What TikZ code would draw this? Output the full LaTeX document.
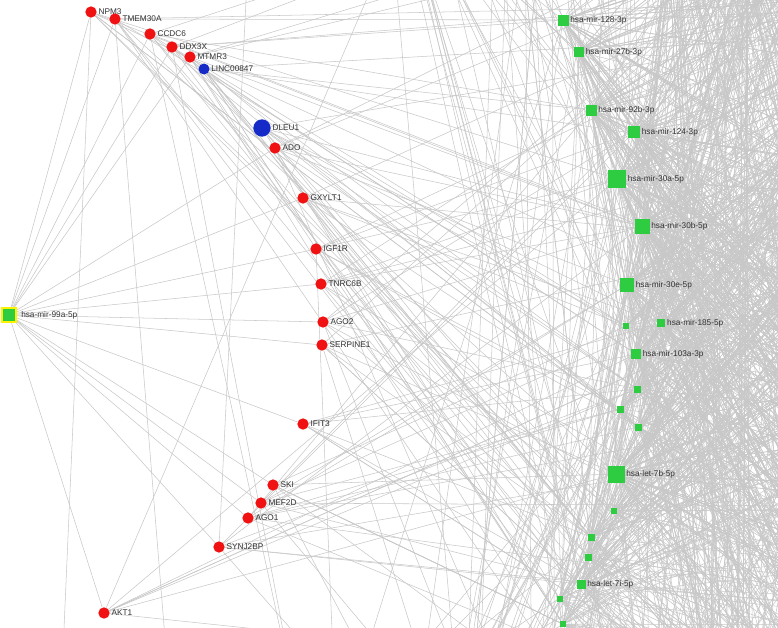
\documentclass[tikz,border=0pt]{standalone}
\usepackage{fontspec}
\setmainfont{Liberation Sans}
\definecolor{edgec}{RGB}{200,200,200}
\definecolor{genered}{RGB}{240,18,18}
\definecolor{lncblue}{RGB}{22,42,200}
\definecolor{mirgreen}{RGB}{46,204,64}
\definecolor{labc}{RGB}{51,51,51}
\pgfdeclarelayer{bg}
\pgfdeclarelayer{edges}
\pgfsetlayers{bg,edges,main}
\tikzset{
  gene/.style={circle, fill=genered, inner sep=0pt, minimum size=8.5pt},
  lnc/.style={circle, fill=lncblue, inner sep=0pt, minimum size=#1},
  mir/.style={rectangle, fill=mirgreen, inner sep=0pt, minimum size=#1},
  lab/.style={font=\fontsize{6.2}{7}\selectfont, text=labc, inner sep=1pt},
  edge/.style={draw=edgec, line width=0.4pt},
}
\begin{document}
\begin{tikzpicture}[x=0.75pt,y=-0.75pt]
\useasboundingbox (0,0) rectangle (778,628);
\begin{pgfonlayer}{bg}
  \fill[white] (0,0) rectangle (778,628);
\end{pgfonlayer}

% hub
\node[mir=10.5pt, draw=yellow, line width=1.5pt,
      label={[lab,xshift=2pt]right:hsa-mir-99a-5p}] (m99) at (9,315) {};

% genes
\foreach \n/\x/\y/\t in {npm/91/12/NPM3, tmem/115/19/TMEM30A, ccdc/150/34/CCDC6,
  ddx/172/47/DDX3X, mtmr/190/57/MTMR3, ado/275/148/ADO, gxy/303/198/GXYLT1,
  igf/316/249/IGF1R, tnrc/321/284/TNRC6B, agob/323/322/AGO2, serp/322/345/SERPINE1,
  ifit/303/424/IFIT3, ski/273/485/SKI, mef/261/503/MEF2D, agoa/248/518/AGO1,
  synj/219/547/SYNJ2BP, akt/104/613/AKT1}
  \node[gene, label={[lab]right:\t}] (\n) at (\x,\y) {};

% lncRNAs
\node[lnc=8.25pt, label={[lab]right:LINC00847}] (linc) at (204,69) {};
\node[lnc=13pt, label={[lab]right:DLEU1}] (dleu) at (262,128) {};

% miRNAs, labelled
\foreach \i/\x/\y/\s/\t in {1/563/20/8.25/hsa-mir-128-3p, 2/579/52/7.5/hsa-mir-27b-3p,
  3/591/110/8.25/hsa-mir-92b-3p, 4/634/132/9/hsa-mir-124-3p, 5/617/179/13.5/hsa-mir-30a-5p,
  6/642/226/11.25/hsa-mir-30b-5p, 7/627/285/10.5/hsa-mir-30e-5p, 8/661/323/6.5/hsa-mir-185-5p,
  9/636/354/7.5/hsa-mir-103a-3p, 10/616/474/12.75/hsa-let-7b-5p, 11/581/584/6.75/hsa-let-7i-5p}
  \node[mir=\s pt, label={[lab]right:\t}] (G\i) at (\x,\y) {};
% miRNAs, unlabelled
\foreach \i/\x/\y/\s in {12/626/326/4.75, 13/637/389/5.25, 14/620/409/5.25, 15/638/427/5.25,
  16/614/511/4.5, 17/591/537/5.25, 18/588/557/5.25, 19/560/599/4.5, 20/563/624/4.5}
  \node[mir=\s pt] (G\i) at (\x,\y) {};

% off-frame partners
\pgfmathsetseed{2718}
\foreach \i in {1,...,50}
  \coordinate (R\i) at ({800+700*rnd},{-450+1550*rnd});
\foreach \i in {1,...,24}
  \coordinate (T\i) at ({360+600*rnd},{-40-260*rnd});
\foreach \i in {1,...,24}
  \coordinate (B\i) at ({330+600*rnd},{670+260*rnd});
\foreach \i in {1,...,30}
  \coordinate (RT\i) at ({660+450*rnd},{-30-320*rnd});
\foreach \i in {1,...,30}
  \coordinate (RB\i) at ({640+450*rnd},{660+320*rnd});
\coordinate (TL1) at (392,-60);
\coordinate (TL2) at (250,-80);
\coordinate (BL1) at (170,700);
\coordinate (BL2) at (300,720);
\coordinate (BL3) at (60,720);

\begin{pgfonlayer}{edges}
  \clip (0,0) rectangle (778,628);
  % hub to targets
  \foreach \n in {npm,tmem,ccdc,ddx,mtmr,ado,gxy,igf,tnrc,agob,serp,ifit,ski,mef,agoa,synj,akt}
    \draw[edge] (m99) -- (\n);
  % genes to miRNAs and others
  \foreach \n in {npm,tmem,ccdc,ddx,mtmr,ado,gxy,igf,tnrc,agob,serp,ifit,ski,mef,agoa,synj,akt}{
    \foreach \k in {1,...,4}{
      \pgfmathtruncatemacro\j{random(1,20)}
      \draw[edge] (\n) -- (G\j);
    }
    \foreach \k in {1,2}{
      \pgfmathtruncatemacro\j{random(1,50)}
      \draw[edge] (\n) -- (R\j);
    }
    \pgfmathtruncatemacro\j{random(1,24)}
    \draw[edge] (\n) -- (B\j);
  }
  \draw[edge] (akt) -- (TL1);
  \draw[edge] (tmem) -- (BL1);
  \draw[edge] (ccdc) -- (BL2);
  \draw[edge] (ddx) -- (BL2);
  \draw[edge] (npm) -- (BL3);
  \draw[edge] (synj) -- (TL2);
  \foreach \n in {linc,dleu}{
    \foreach \k in {1,...,6}{
      \pgfmathtruncatemacro\j{random(1,20)}
      \draw[edge] (\n) -- (G\j);
    }
    \foreach \k in {1,2}{
      \pgfmathtruncatemacro\j{random(1,50)}
      \draw[edge] (\n) -- (R\j);
    }
    \pgfmathtruncatemacro\j{random(1,24)}
    \draw[edge] (\n) -- (B\j);
  }
  % miRNAs to off-frame partners
  \foreach \g/\m in {1/40,2/35,3/40,4/45,5/70,6/65,7/60,8/35,9/40,10/70,11/35,
                     12/20,13/22,14/22,15/22,16/20,17/22,18/22,19/20,20/20}{
    \foreach \k in {1,...,\m}{
      \pgfmathtruncatemacro\j{random(1,50)}
      \draw[edge] (G\g) -- (R\j);
    }
    \foreach \k in {1,2,3}{
      \pgfmathtruncatemacro\j{random(1,24)}
      \draw[edge] (G\g) -- (T\j);
      \pgfmathtruncatemacro\j{random(1,24)}
      \draw[edge] (G\g) -- (B\j);
      \pgfmathtruncatemacro\j{random(1,30)}
      \draw[edge] (G\g) -- (RT\j);
      \pgfmathtruncatemacro\j{random(1,30)}
      \draw[edge] (G\g) -- (RB\j);
    }
  }
  % off-frame partners among themselves
  \foreach \k in {1,...,45}{
    \pgfmathtruncatemacro\a{random(1,24)}
    \pgfmathtruncatemacro\b{random(1,24)}
    \draw[edge] (T\a) -- (B\b);
  }
  \foreach \k in {1,...,50}{
    \pgfmathtruncatemacro\a{random(1,24)}
    \pgfmathtruncatemacro\b{random(1,50)}
    \draw[edge] (T\a) -- (R\b);
    \pgfmathtruncatemacro\a{random(1,24)}
    \pgfmathtruncatemacro\b{random(1,50)}
    \draw[edge] (B\a) -- (R\b);
  }
  \foreach \k in {1,...,200}{
    \pgfmathtruncatemacro\a{random(1,30)}
    \pgfmathtruncatemacro\b{random(1,30)}
    \draw[edge] (RT\a) -- (RB\b);
  }
  \foreach \k in {1,...,130}{
    \pgfmathtruncatemacro\a{random(1,30)}
    \pgfmathtruncatemacro\b{random(1,50)}
    \draw[edge] (RT\a) -- (R\b);
    \pgfmathtruncatemacro\a{random(1,30)}
    \pgfmathtruncatemacro\b{random(1,50)}
    \draw[edge] (RB\a) -- (R\b);
  }
\end{pgfonlayer}
\end{tikzpicture}
\end{document}
